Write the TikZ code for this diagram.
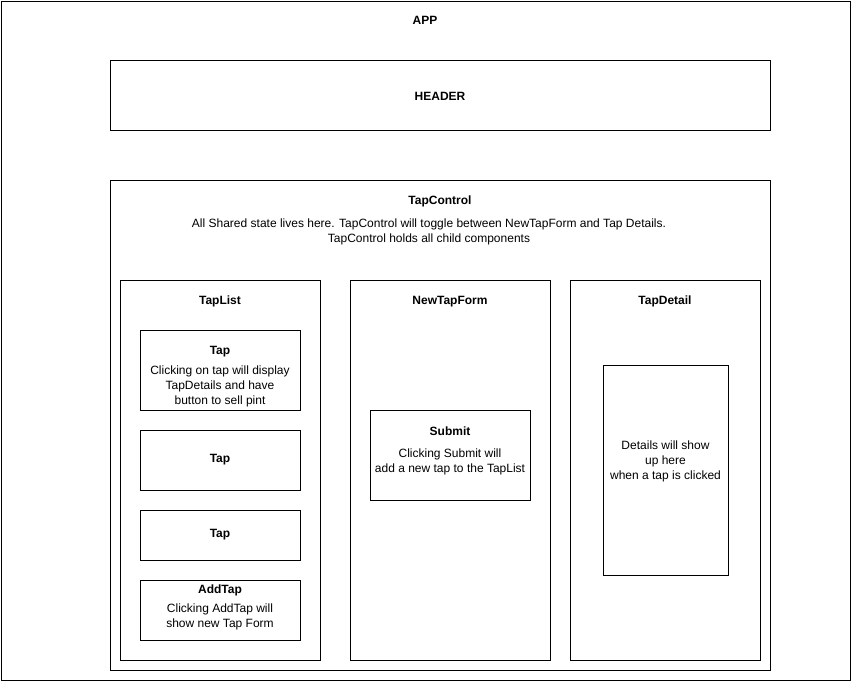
\documentclass[tikz,border=0pt]{standalone}
\usepackage{fontspec}
\setmainfont{Liberation Sans}
\begin{document}
\begin{tikzpicture}[x=1pt,y=-1pt,
  box/.style={draw=black,line width=1pt,fill=white,inner sep=0pt},
  ttl/.style={font=\bfseries\fontsize{12}{14.5}\selectfont,inner sep=0pt,anchor=center,yshift=-1.5pt},
  txt/.style={font=\fontsize{12}{15}\selectfont,inner sep=0pt,align=center,anchor=center,yshift=-1.5pt}]
\useasboundingbox (0,0) rectangle (851,681);
% APP
\node[box,minimum width=849,minimum height=679] (app) at (425.5,340.5) {};
\node[ttl] (appt) at (425,19) {APP};
% HEADER
\node[box,minimum width=660,minimum height=70] (header) at (440,95) {};
\node[ttl] (headert) at (440,95) {HEADER};
% TapControl
\node[box,minimum width=660,minimum height=490] (tc) at (440,425) {};
\node[ttl] (tct) at (440,200) {TapControl};
\node[txt] (tcd) at (429,230) {All Shared state lives here. TapControl will toggle between NewTapForm and Tap Details.\\TapControl holds all child components};
% TapList
\node[box,minimum width=200,minimum height=380] (tl) at (220,470) {};
\node[ttl] (tlt) at (220,300) {TapList};
\node[box,minimum width=160,minimum height=80] (tap1) at (220,370) {};
\node[ttl] (tap1t) at (220,350) {Tap};
\node[txt] (tap1d) at (220,385) {Clicking on tap will display\\TapDetails and have\\button to sell pint};
\node[box,minimum width=160,minimum height=60] (tap2) at (220,460) {};
\node[ttl] (tap2t) at (220,458) {Tap};
\node[box,minimum width=160,minimum height=50] (tap3) at (220,535) {};
\node[ttl] (tap3t) at (220,533) {Tap};
\node[box,minimum width=160,minimum height=60] (addtap) at (220,610) {};
\node[ttl] (addtapt) at (220,589) {AddTap};
\node[txt] (addtapd) at (220,615) {Clicking AddTap will\\show new Tap Form};
% NewTapForm
\node[box,minimum width=200,minimum height=380] (ntf) at (450,470) {};
\node[ttl] (ntft) at (450,300) {NewTapForm};
\node[box,minimum width=160,minimum height=90] (submit) at (450,455) {};
\node[ttl] (submitt) at (450,430) {Submit};
\node[txt] (submitd) at (450,460) {Clicking Submit will\\add a new tap to the TapList};
% TapDetail
\node[box,minimum width=190,minimum height=380] (td) at (665,470) {};
\node[ttl] (tdt) at (665,300) {TapDetail};
\node[box,minimum width=125,minimum height=210] (det) at (665.5,470) {};
\node[txt] (detd) at (665.5,460) {Details will show\\up here\\when a tap is clicked};
\end{tikzpicture}
\end{document}
